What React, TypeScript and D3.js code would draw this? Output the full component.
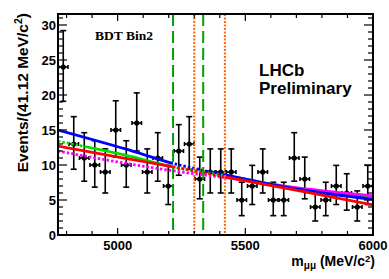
import React from 'react';
import * as d3 from 'd3';

// ---- data ----
const binLow = 4766.4;
const binWidth = 41.12;
const counts = [24, 13, 11, 10, 9, 15, 10, 16, 9, 11, 7, 12, 13, 8, 9, 9, 9, 5, 7, 9, 5, 5, 11, 8, 4, 5, 7, 6, 4, 7];

const curveMass = [4766, 5030, 5220, 5420, 5713, 6000];
const blueVals = [15.0, 12.3, 10.2, 8.6, 6.5, 5.1];
const greenVals = [13.4, 11.4, 9.7, 8.5, 6.6, 5.5];
const redVals = [12.7, 10.95, 9.7, 8.3, 6.3, 4.3];
const magentaVals = [12.0, 10.25, 9.15, 8.2, 6.7, 5.6];

const b0Window = [5217, 5335];
const bsWindow = [5300, 5420];

const yMajor = [0, 5, 10, 15, 20, 25, 30];
const yMinor = d3.range(0, 32, 1);
const xMajor = [5000, 5500, 6000];
const xMinor = d3.range(4800, 6001, 100);

// ---- layout ----
const W = 389, H = 279;
const L = 58, R = 373, T = 14, B = 235;

type Seg = [number, number, 'solid' | 'dot'];

export default function App() {
  const x = d3.scaleLinear().domain([binLow, 6000]).range([L, R]);
  const y = d3.scaleLinear().domain([0, 31.57]).range([B, T]);

  const line = d3.line<[number, number]>()
    .x(d => x(d[0]))
    .y(d => y(d[1]))
    .curve(d3.curveMonotoneX);

  const curves: { id: string; vals: number[]; color: string; segs: Seg[] }[] = [
    { id: 'g', vals: greenVals, color: '#00dd00', segs: [[4766, 4870, 'dot'], [4870, 5217, 'solid'], [5217, 5420, 'dot'], [5420, 6000, 'solid']] },
    { id: 'm', vals: magentaVals, color: '#ff00ff', segs: [[4766, 5420, 'dot'], [5420, 6000, 'solid']] },
    { id: 'b', vals: blueVals, color: '#0000ff', segs: [[4766, 5217, 'solid'], [5217, 5420, 'dot'], [5420, 6000, 'solid']] },
    { id: 'r', vals: redVals, color: '#ff0000', segs: [[4766, 5217, 'solid'], [5217, 5420, 'dot'], [5420, 6000, 'solid']] },
  ];

  const font = "'Liberation Sans', Arial, Helvetica, sans-serif";
  const half = binWidth / 2;

  return (
    <svg width={W} height={H} style={{ position: 'fixed', left: 0, top: 0, background: '#fff' }}
      xmlns="http://www.w3.org/2000/svg">
      <rect x={0} y={0} width={W} height={H} fill="#fff" />
      <defs>
        <clipPath id="frame"><rect x={L} y={T} width={R - L} height={B - T} /></clipPath>
        {curves.map(c => c.segs.map((s, i) => (
          <clipPath key={c.id + i} id={`clip-${c.id}-${i}`}>
            <rect x={Math.max(L, x(s[0]))} y={T} width={Math.min(R, x(s[1])) - Math.max(L, x(s[0]))} height={B - T} />
          </clipPath>
        )))}
      </defs>

      {/* data points */}
      <g stroke="#000" strokeWidth={1.6} fill="#000">
        {counts.map((n, i) => {
          const m = binLow + binWidth * (i + 0.5);
          const cx = x(m), cy = y(n);
          const yt = y(n + Math.sqrt(n) + 0.3), yb = y(n - Math.sqrt(n));
          const xl = x(m - half) + 0.5, xr = x(m + half) - 0.5;
          return (
            <g key={i}>
              <line x1={cx} x2={cx} y1={yt} y2={yb} />
              <line x1={cx - 3} x2={cx + 3} y1={yt} y2={yt} />
              <line x1={cx - 3} x2={cx + 3} y1={yb} y2={yb} />
              <line x1={xl} x2={xr} y1={cy} y2={cy} />
              <line x1={xl} x2={xl} y1={cy - 2} y2={cy + 2} />
              <line x1={xr} x2={xr} y1={cy - 2} y2={cy + 2} />
              <circle cx={cx} cy={cy} r={2.6} stroke="none" />
            </g>
          );
        })}
      </g>

      {/* fit curves */}
      <g clipPath="url(#frame)" fill="none">
        {curves.map(c => {
          const d = line(curveMass.map((m, i) => [m, c.vals[i]] as [number, number])) || '';
          return c.segs.map((s, i) => (
            <path key={c.id + i} d={d} stroke={c.color} strokeWidth={2.8}
              strokeDasharray={s[2] === 'dot' ? '2.5,2' : undefined}
              clipPath={`url(#clip-${c.id}-${i})`} />
          ));
        })}
      </g>

      {/* signal windows */}
      <g fill="none" strokeWidth={2}>
        {b0Window.map((m, i) => (
          <line key={'b0' + i} x1={x(m)} x2={x(m)} y1={T} y2={B} stroke="#00a000" strokeDasharray="12,5" />
        ))}
        {bsWindow.map((m, i) => (
          <line key={'bs' + i} x1={x(m)} x2={x(m)} y1={T} y2={B} stroke="#ff6600" strokeDasharray="2,1.5" />
        ))}
      </g>

      {/* frame and ticks */}
      <g stroke="#000" fill="none">
        {yMinor.map(v => {
          const major = v % 5 === 0;
          const len = major ? 9 : 5;
          return (
            <g key={'y' + v} strokeWidth={1.2}>
              <line x1={L} x2={L + len} y1={y(v)} y2={y(v)} />
              <line x1={R} x2={R - len} y1={y(v)} y2={y(v)} />
            </g>
          );
        })}
        {xMinor.map(v => {
          const major = v % 500 === 0;
          const len = major ? 7 : 4;
          return (
            <g key={'x' + v} strokeWidth={1.2}>
              <line x1={x(v)} x2={x(v)} y1={B} y2={B - len} />
              <line x1={x(v)} x2={x(v)} y1={T} y2={T + len} />
            </g>
          );
        })}
        <rect x={L} y={T} width={R - L} height={B - T} strokeWidth={2} />
      </g>

      {/* tick labels */}
      <g fontFamily={font} fontWeight="bold" fontSize={13} fill="#000">
        {yMajor.map(v => (
          <text key={'yl' + v} x={56} y={y(v)} dy="0.36em" textAnchor="end">{v}</text>
        ))}
        {xMajor.map(v => (
          <text key={'xl' + v} x={x(v)} y={249.5} textAnchor="middle">{v}</text>
        ))}
      </g>

      {/* axis titles */}
      <text transform="translate(28,13) rotate(-90)" textAnchor="end" fontFamily={font} fontWeight="bold" fontSize={15.5} fill="#000">
        Events/(41.12 MeV/c<tspan dy="-6" fontSize={10.5}>2</tspan><tspan dy="6">)</tspan>
      </text>
      <text x={375} y={266} textAnchor="end" fontFamily={font} fontWeight="bold" fontSize={14} fill="#000">
        m<tspan dy="3" fontSize={10}>μμ</tspan><tspan dy="-3"> (MeV/c</tspan><tspan dy="-4.5" fontSize={9.5}>2</tspan><tspan dy="4.5">)</tspan>
      </text>

      {/* labels */}
      <text x={95} y={40} fontFamily="'Liberation Serif', 'Times New Roman', serif" fontWeight="bold" fontSize={13.5} fill="#000">BDT Bin2</text>
      <text x={259} y={76} fontFamily={font} fontWeight="bold" fontSize={17} fill="#000">LHCb</text>
      <text x={259} y={94} fontFamily={font} fontWeight="bold" fontSize={17} fill="#000">Preliminary</text>
    </svg>
  );
}
